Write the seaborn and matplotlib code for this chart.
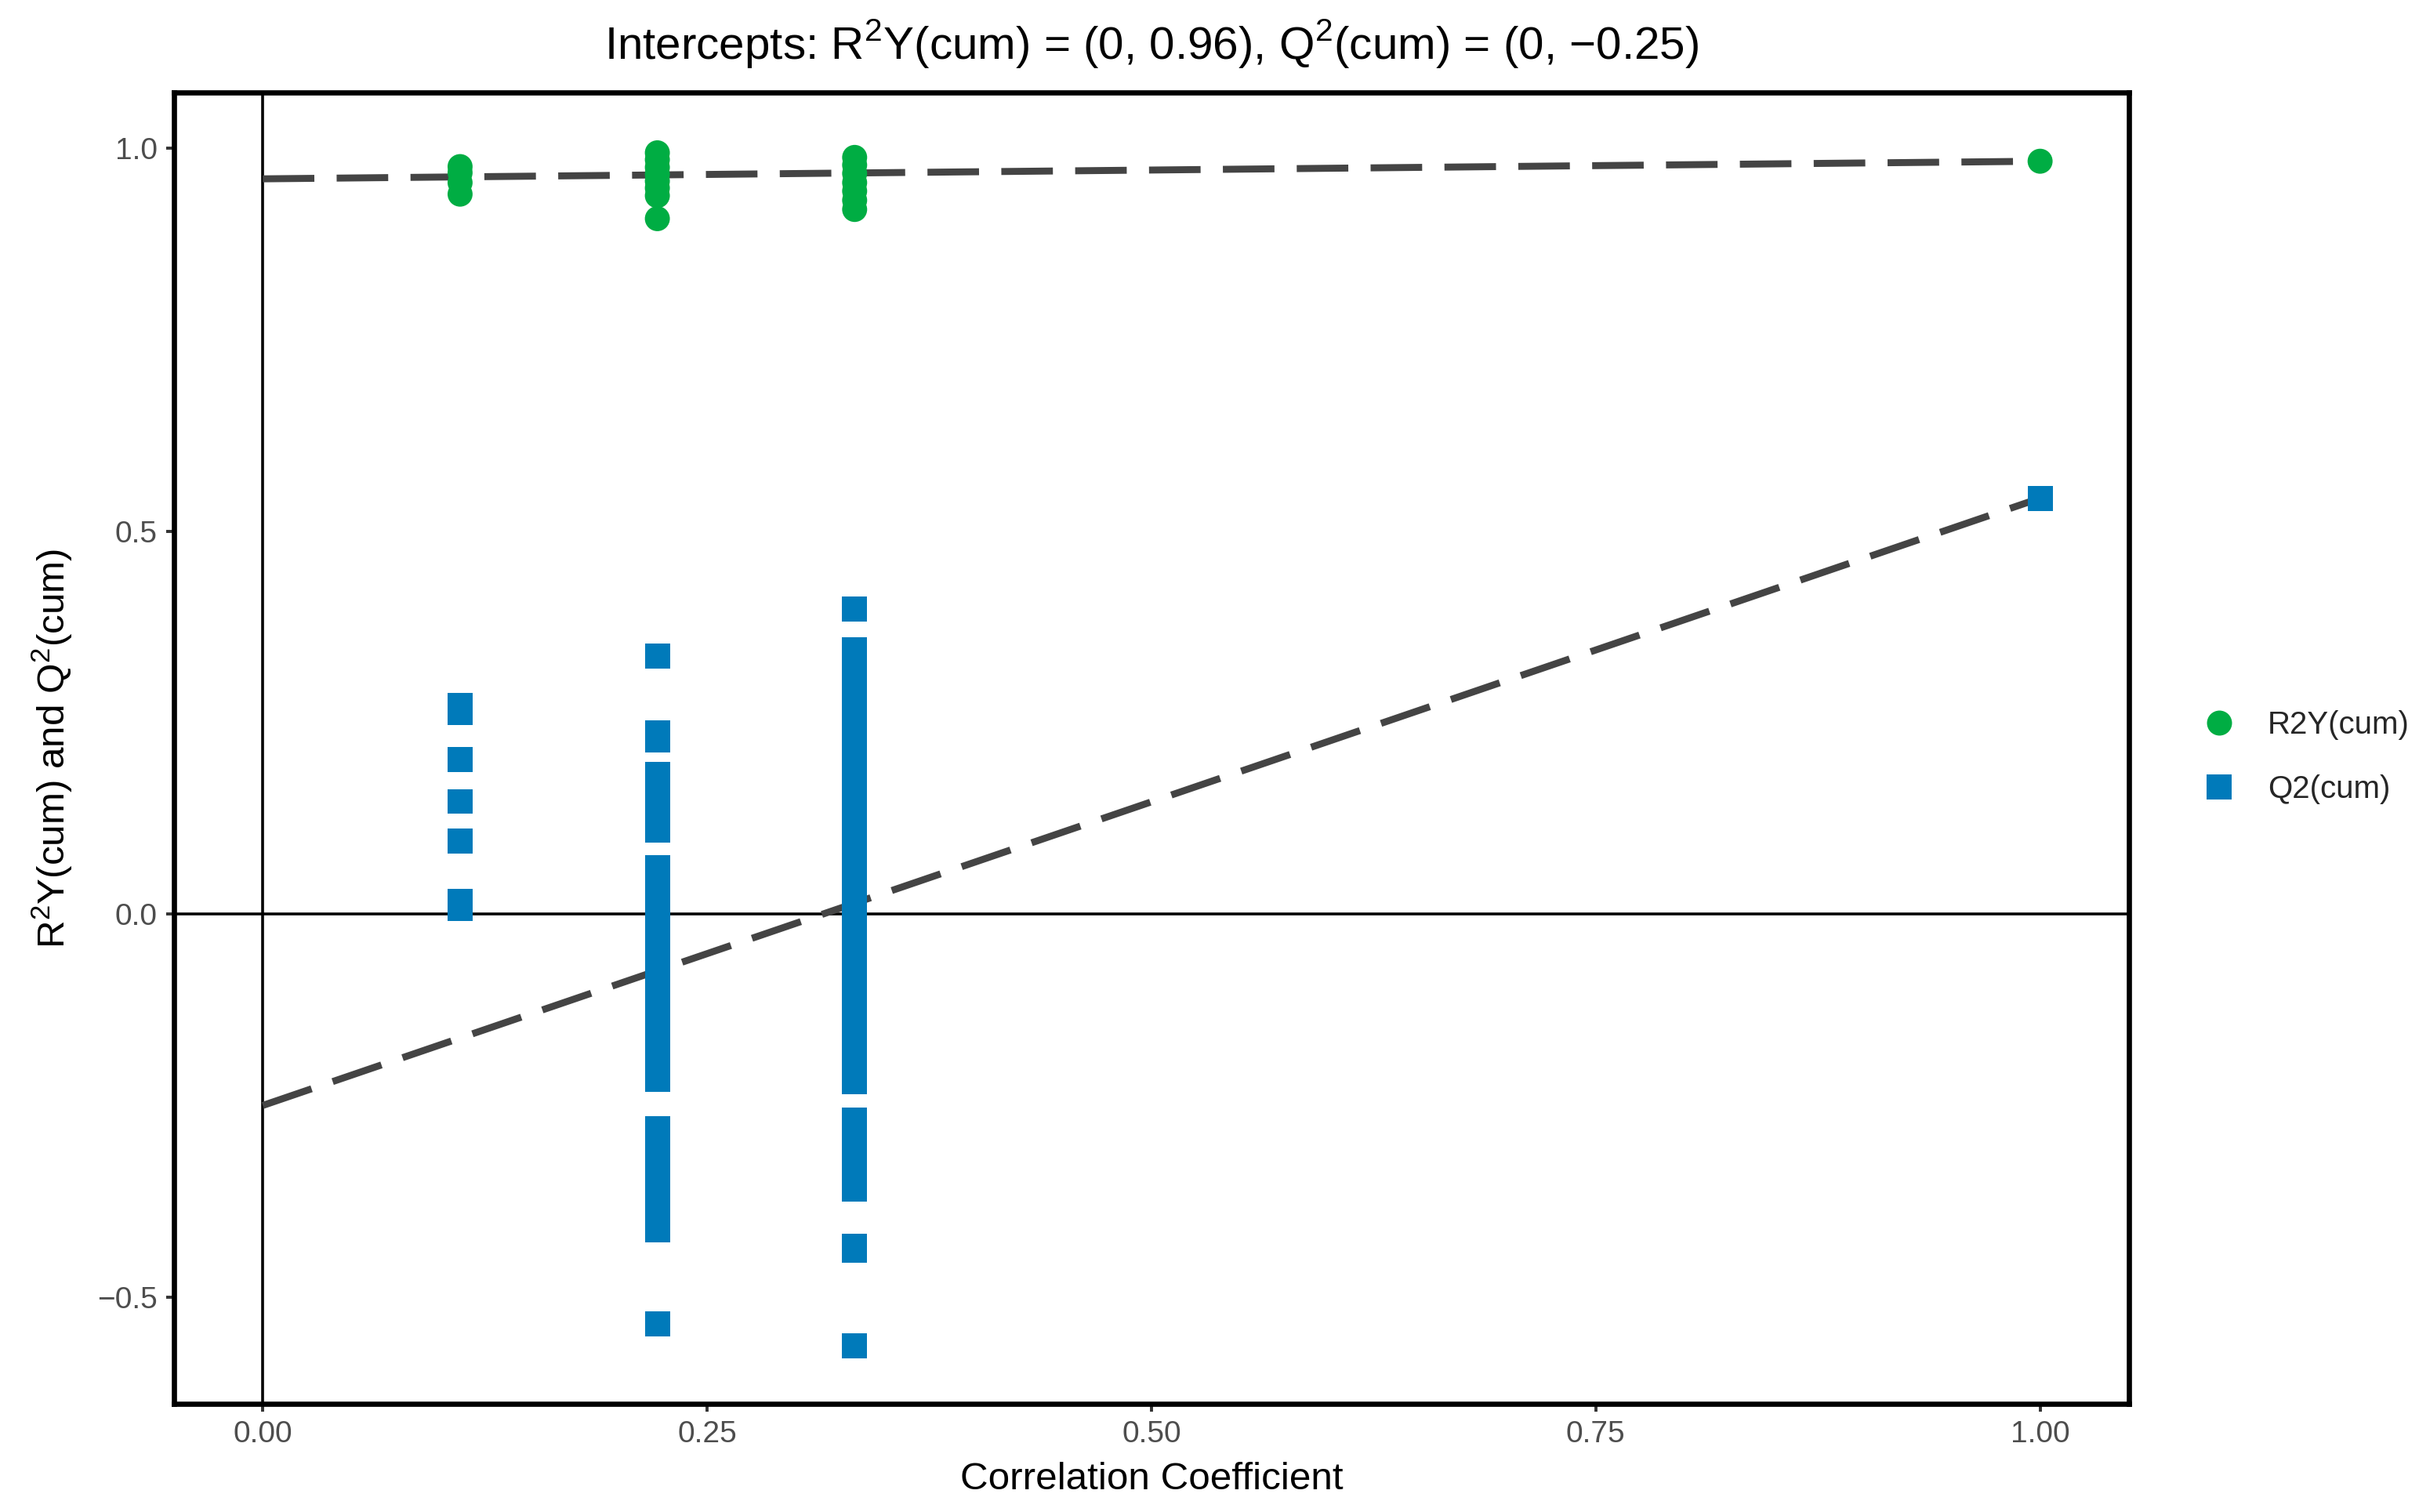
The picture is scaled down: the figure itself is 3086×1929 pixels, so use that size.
import matplotlib
matplotlib.use("Agg")
import matplotlib.pyplot as plt
from matplotlib.lines import Line2D
import pandas as pd
import seaborn as sns

# permutation results, one list per correlation value
cor_levels = [0.111, 0.222, 0.333, 1.0]

r2y_cols = [
    [0.976, 0.968, 0.955, 0.940],
    [0.994, 0.985, 0.975, 0.966, 0.957, 0.948, 0.938, 0.908],
    [0.988, 0.978, 0.967, 0.955, 0.944, 0.932, 0.920],
    [0.983],
]

q2_cols = [
    [0.272, 0.263, 0.202, 0.147, 0.095, 0.016, 0.007],
    [0.337, 0.237, 0.227, 0.182, 0.158, 0.134, 0.110,
     0.061, 0.033, 0.006, -0.022, -0.050, -0.078, -0.105, -0.133,
     -0.161, -0.188, -0.216,
     -0.280, -0.306, -0.333, -0.359, -0.386, -0.412, -0.535],
    [0.398, 0.345, 0.314, 0.283, 0.251, 0.220, 0.189, 0.157, 0.126,
     0.095, 0.063, 0.032, 0.001, -0.031, -0.062, -0.093, -0.125,
     -0.156, -0.188, -0.219,
     -0.269, -0.299, -0.329, -0.359, -0.434, -0.439, -0.564],
    [0.543],
]

# regression lines: (intercept at 0, value at 1)
line_x = [0.0, 1.0]
r2y_line = [0.96, 0.983]
q2_line = [-0.25, 0.543]

metric_names = ["R2Y(cum)", "Q2(cum)"]
colors = {"R2Y(cum)": "#00AD43", "Q2(cum)": "#007ABA"}
markers = {"R2Y(cum)": "o", "Q2(cum)": "s"}

rows = []
for name, cols in zip(metric_names, [r2y_cols, q2_cols]):
    for c, vals in zip(cor_levels, cols):
        for v in vals:
            rows.append((c, v, name))
df = pd.DataFrame(rows, columns=["cor", "value", "metric"])

sns.set_style("white")
plt.rcParams["font.family"] = ["Liberation Sans", "DejaVu Sans"]
plt.rcParams["mathtext.fontset"] = "custom"
plt.rcParams["mathtext.rm"] = "Liberation Sans"

fig = plt.figure(figsize=(15.43, 9.645), dpi=200)
ax = fig.add_axes([0.0719, 0.0715, 0.8082, 0.8673])

ax.axhline(0, color="black", lw=1.3, zorder=1)
ax.axvline(0, color="black", lw=1.3, zorder=1)

dash = (0, (7.4, 3.2))
ax.plot(line_x, r2y_line, color="#444444", lw=3.2, linestyle=dash, zorder=2)
ax.plot(line_x, q2_line, color="#444444", lw=3.2, linestyle=dash, zorder=2)

sns.scatterplot(data=df, x="cor", y="value", hue="metric", style="metric",
                palette=colors, markers=markers, s=132, linewidth=0,
                legend=False, ax=ax, zorder=3)

ax.set_xlim(-0.05, 1.05)
ax.set_ylim(-0.6397, 1.0727)
ax.set_xticks([0, 0.25, 0.5, 0.75, 1.0])
ax.set_xticklabels(["0.00", "0.25", "0.50", "0.75", "1.00"])
ax.set_yticks([-0.5, 0.0, 0.5, 1.0])
ax.set_yticklabels(["\u22120.5", "0.0", "0.5", "1.0"])
ax.tick_params(axis="both", length=3.6, width=1.4, color="#333333",
               labelcolor="#4D4D4D", labelsize=14, pad=4,
               bottom=True, left=True)
for sp in ax.spines.values():
    sp.set_color("black")
    sp.set_linewidth(2.4)

ax.set_xlabel("Correlation Coefficient", fontsize=17.8, color="black", labelpad=6)
ax.set_ylabel(r"R$^\mathregular{2}$Y(cum) and Q$^\mathregular{2}$(cum)",
              fontsize=17.8, color="black", labelpad=10)
ax.set_title("Intercepts: R$^\\mathregular{2}$Y(cum) = (0, 0.96), "
             "Q$^\\mathregular{2}$(cum) = (0, \u22120.25)",
             fontsize=21, color="black", pad=15)

handles = [Line2D([], [], linestyle="none", marker=markers[m], markersize=11.5,
                  markerfacecolor=colors[m], markeredgewidth=0, label=m)
           for m in metric_names]
fig.legend(handles=handles, loc="center left", bbox_to_anchor=(0.9107, 0.4992),
           frameon=False, fontsize=14.5, handlelength=1.0, handletextpad=1.05,
           labelspacing=1.1, borderpad=0, borderaxespad=0)

fig.savefig("out.png", dpi=200)
